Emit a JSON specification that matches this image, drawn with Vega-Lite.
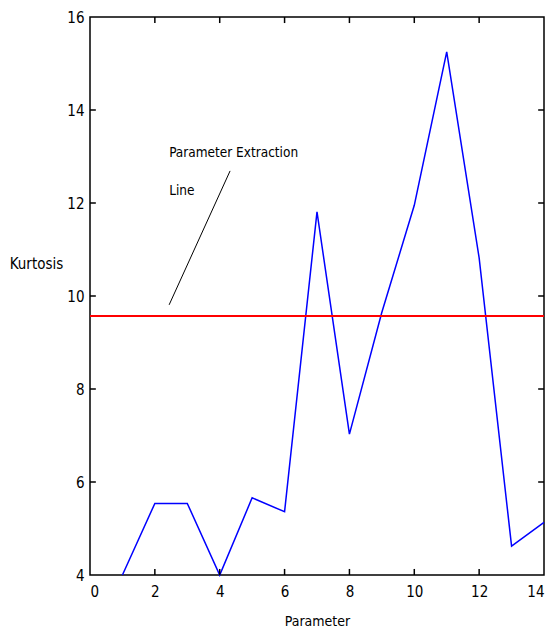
{
  "$schema": "https://vega.github.io/schema/vega-lite/v6.json",
  "width": 454,
  "height": 558,
  "autosize": {"type": "none"},
  "padding": {"left": 90, "top": 17, "right": 9, "bottom": 54},
  "background": "white",
  "config": {
    "view": {"stroke": "#000000", "strokeWidth": 1.5},
    "font": "DejaVu Sans Condensed, sans-serif",
    "axis": {
      "domain": false,
      "ticks": false,
      "grid": false,
      "labelColor": "#000000",
      "labelFontSize": 15,
      "labelFont": "DejaVu Sans Condensed, sans-serif",
      "titleFont": "DejaVu Sans Condensed, sans-serif",
      "titleFontSize": 15,
      "titleFontWeight": "normal",
      "titleColor": "#000000"
    }
  },
  "datasets": {
    "kurt": [
      {"p": 1, "k": 4.0},
      {"p": 2, "k": 5.54},
      {"p": 3, "k": 5.54},
      {"p": 4, "k": 4.0},
      {"p": 5, "k": 5.66},
      {"p": 6, "k": 5.36},
      {"p": 7, "k": 11.81},
      {"p": 8, "k": 7.03},
      {"p": 9, "k": 9.65},
      {"p": 10, "k": 11.95},
      {"p": 11, "k": 15.25},
      {"p": 12, "k": 10.82},
      {"p": 13, "k": 4.62},
      {"p": 14, "k": 5.13}
    ],
    "threshold": [{"thr": 9.57}],
    "pointer": [
      {"ax": 2.44, "ay": 9.81},
      {"ax": 4.32, "ay": 12.69}
    ],
    "notes": [
      {"tx": 2.44, "ty": 13.0, "label": "Parameter Extraction"},
      {"tx": 2.44, "ty": 12.18, "label": "Line"}
    ],
    "xticks": [{"v": 2}, {"v": 4}, {"v": 6}, {"v": 8}, {"v": 10}, {"v": 12}],
    "yticks": [{"v": 6}, {"v": 8}, {"v": 10}, {"v": 12}, {"v": 14}]
  },
  "layer": [
    {
      "data": {"name": "kurt"},
      "mark": {"type": "line", "color": "#0000ff", "strokeWidth": 1.5},
      "encoding": {
        "x": {
          "field": "p", "type": "quantitative",
          "scale": {"domain": [0, 14], "nice": false, "zero": false},
          "axis": {
            "orient": "bottom", "values": [0, 2, 4, 6, 8, 10, 12, 14],
            "labelPadding": 9, "title": "Parameter",
            "titleFontSize": 14,
            "titleY": 39, "titleBaseline": "top", "titleAnchor": "middle"
          }
        },
        "y": {
          "field": "k", "type": "quantitative",
          "scale": {"domain": [4, 16], "nice": false, "zero": false},
          "axis": {
            "orient": "left", "values": [4, 6, 8, 10, 12, 14, 16],
            "labelPadding": 6, "title": "Kurtosis", "titleAngle": 0,
            "titleX": -54, "titleY": 246, "titleAlign": "center",
            "titleBaseline": "middle"
          }
        }
      }
    },
    {
      "data": {"name": "threshold"},
      "mark": {"type": "rule", "color": "#ff0000", "strokeWidth": 2},
      "encoding": {
        "y": {"field": "thr", "type": "quantitative"}
      }
    },
    {
      "data": {"name": "pointer"},
      "mark": {"type": "line", "color": "#000000", "strokeWidth": 1},
      "encoding": {
        "x": {"field": "ax", "type": "quantitative"},
        "y": {"field": "ay", "type": "quantitative"}
      }
    },
    {
      "data": {"name": "notes"},
      "mark": {"type": "text", "align": "left", "baseline": "alphabetic", "fontSize": 13.5, "color": "#000000"},
      "encoding": {
        "x": {"field": "tx", "type": "quantitative"},
        "y": {"field": "ty", "type": "quantitative"},
        "text": {"field": "label"}
      }
    },
    {
      "data": {"name": "xticks"},
      "mark": {"type": "rule", "color": "#000000", "strokeWidth": 1.5},
      "encoding": {
        "x": {"field": "v", "type": "quantitative"},
        "y": {"datum": 4},
        "y2": {"datum": 4.13}
      }
    },
    {
      "data": {"name": "xticks"},
      "mark": {"type": "rule", "color": "#000000", "strokeWidth": 1.5},
      "encoding": {
        "x": {"field": "v", "type": "quantitative"},
        "y": {"datum": 16},
        "y2": {"datum": 15.87}
      }
    },
    {
      "data": {"name": "yticks"},
      "mark": {"type": "rule", "color": "#000000", "strokeWidth": 1.5},
      "encoding": {
        "y": {"field": "v", "type": "quantitative"},
        "x": {"datum": 0},
        "x2": {"datum": 0.18}
      }
    },
    {
      "data": {"name": "yticks"},
      "mark": {"type": "rule", "color": "#000000", "strokeWidth": 1.5},
      "encoding": {
        "y": {"field": "v", "type": "quantitative"},
        "x": {"datum": 14},
        "x2": {"datum": 13.82}
      }
    }
  ]
}
